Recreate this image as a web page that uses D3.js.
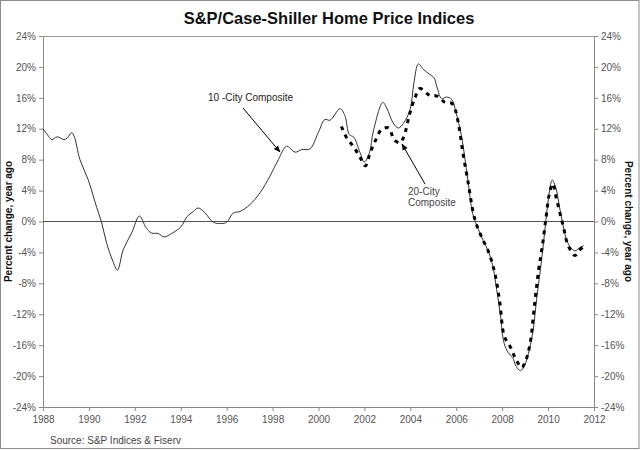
<!DOCTYPE html>
<html><head><meta charset="utf-8">
<script src="https://cdn.jsdelivr.net/npm/d3@7"></script>
<style>body{margin:0;background:#fff;} svg{display:block;font-family:Arial,"Liberation Sans",sans-serif;}</style>
</head><body>
<svg id="c" width="640" height="450"></svg>
<script>
const title = "S&P/Case-Shiller Home Price Indices";
const yearTicks = [1988,1990,1992,1994,1996,1998,2000,2002,2004,2006,2008,2010,2012];
const pctTicks = [-24,-20,-16,-12,-8,-4,0,4,8,12,16,20,24];

const city10Dates = [1988.0,1988.2,1988.38,1988.62,1988.91,1989.06,1989.25,1989.36,1989.61,1989.97,1990.19,1990.34,1990.56,1990.77,1991.04,1991.24,1991.5,1991.86,1992.2,1992.49,1992.73,1993.02,1993.27,1993.6,1993.89,1994.08,1994.26,1994.55,1994.76,1995.06,1995.42,1995.78,1996.0,1996.29,1996.58,1997.02,1997.45,1997.89,1998.25,1998.61,1998.98,1999.27,1999.63,1999.99,2000.28,2000.5,2000.94,2001.15,2001.34,2001.54,2001.81,2002.0,2002.22,2002.39,2002.8,2002.97,2003.26,2003.48,2003.7,2003.99,2004.15,2004.35,2004.56,2004.86,2005.03,2005.17,2005.36,2005.58,2005.8,2005.99,2006.23,2006.5,2006.72,2006.96,2007.18,2007.39,2007.58,2007.76,2007.93,2008.08,2008.27,2008.46,2008.6,2008.8,2008.99,2009.13,2009.33,2009.5,2009.72,2009.91,2010.05,2010.18,2010.34,2010.49,2010.66,2010.88,2011.17,2011.36,2011.56];
const city10Values = [12.0,11.2,10.6,10.96,10.6,10.8,11.5,11.0,8.0,5.4,3.3,1.8,-0.2,-2.8,-5.1,-6.3,-3.6,-1.5,0.7,-0.8,-1.5,-1.55,-2.0,-1.55,-1.0,-0.4,0.6,1.3,1.75,1.1,-0.1,-0.26,-0.1,1.1,1.3,2.2,3.7,5.9,8.0,9.74,8.97,9.3,9.4,11.5,13.2,13.1,14.6,13.7,11.25,10.9,8.9,7.7,8.9,11.7,15.4,14.7,12.7,12.1,12.7,14.5,17.8,20.4,19.7,19.0,18.6,17.3,15.9,16.1,15.8,14.1,11.0,5.5,1.0,-1.0,-2.5,-3.8,-5.6,-8.8,-12.25,-15.7,-17.0,-17.6,-18.7,-19.3,-18.5,-17.2,-14.4,-10.1,-4.9,0.26,3.7,5.35,4.35,2.0,-0.6,-2.9,-3.8,-3.4,-3.1];

const city20Dates = [2001.0,2001.23,2001.52,2001.81,2002.04,2002.24,2002.5,2002.75,2003.06,2003.29,2003.55,2003.72,2003.96,2004.2,2004.42,2004.86,2005.2,2005.51,2005.8,2005.95,2006.1,2006.3,2006.52,2006.75,2006.93,2007.15,2007.39,2007.57,2007.71,2007.9,2008.09,2008.37,2008.6,2008.85,2008.99,2009.21,2009.4,2009.59,2009.75,2009.91,2010.05,2010.2,2010.37,2010.55,2010.69,2010.86,2011.17,2011.36,2011.53];
const city20Values = [12.3,10.8,9.7,8.3,7.2,8.8,10.6,11.9,12.1,10.6,10.2,11.0,13.8,16.0,17.2,16.3,16.2,15.4,15.3,14.5,12.6,8.7,5.0,1.0,-0.8,-2.3,-3.8,-5.4,-7.1,-10.5,-14.8,-16.3,-17.85,-18.9,-18.3,-15.9,-11.0,-6.2,-3.2,0.5,3.5,4.9,2.85,0.7,-1.0,-3.0,-4.4,-3.7,-3.3];

const svg = d3.select("#c");
const L = 43, R = 594, T = 36, B = 407;
const x = d3.scaleLinear().domain([1988,2012]).range([L,R]);
const y = d3.scaleLinear().domain([-24,24]).range([B,T]);

// outer border
svg.append("rect").attr("x",0.5).attr("y",0.5).attr("width",638.5).attr("height",448).attr("fill","none").attr("stroke","#8c8c8c");

// title
svg.append("text").attr("x",329).attr("y",24).attr("text-anchor","middle")
  .attr("font-size",16.5).attr("font-weight","bold").attr("fill","#111").text(title);

// plot box top line
svg.append("line").attr("x1",L).attr("x2",R).attr("y1",T+0.5).attr("y2",T+0.5).attr("stroke","#999");

const axStyle = g => {
  g.selectAll(".domain").attr("stroke","#888");
  g.selectAll(".tick line").attr("stroke","#888");
  g.selectAll(".tick text").attr("fill","#555").attr("font-size",10).attr("font-family","Arial, 'Liberation Sans', sans-serif");
};
const fmt = d => d + "%";
svg.append("g").attr("transform",`translate(${L},0)`)
  .call(d3.axisLeft(y).tickValues(pctTicks).tickFormat(fmt).tickSize(4).tickSizeOuter(0).tickPadding(3)).call(axStyle);
svg.append("g").attr("transform",`translate(${R},0)`)
  .call(d3.axisRight(y).tickValues(pctTicks).tickFormat(fmt).tickSize(4).tickSizeOuter(0).tickPadding(3)).call(axStyle);
svg.append("g").attr("transform",`translate(0,${B})`)
  .call(d3.axisBottom(x).tickValues(yearTicks).tickFormat(d3.format("d")).tickSize(4).tickSizeOuter(0).tickPadding(5)).call(axStyle);

// zero line
svg.append("line").attr("x1",L).attr("x2",R).attr("y1",y(0)).attr("y2",y(0)).attr("stroke","#555").attr("stroke-width",1);

// series
const line = d3.line().x(d=>x(d[0])).y(d=>y(d[1])).curve(d3.curveCatmullRom.alpha(0.5));
const s10 = city10Dates.map((d,i)=>[d,city10Values[i]]);
const s20 = city20Dates.map((d,i)=>[d,city20Values[i]]);
svg.append("path").datum(s10).attr("d",line).attr("fill","none").attr("stroke","#333").attr("stroke-width",1);
svg.append("path").datum(s20).attr("d",line).attr("fill","none").attr("stroke","#000").attr("stroke-width",3).attr("stroke-dasharray","4,5");

// axis titles
svg.append("text").attr("transform",`translate(12,${y(0)}) rotate(-90)`).attr("text-anchor","middle")
  .attr("font-size",10).attr("font-weight","bold").attr("fill","#111").text("Percent change, year ago");
svg.append("text").attr("transform",`translate(625,${y(0)}) rotate(90)`).attr("text-anchor","middle")
  .attr("font-size",10).attr("font-weight","bold").attr("fill","#111").text("Percent change, year ago");

// annotations
const defs = svg.append("defs");
defs.append("marker").attr("id","ah").attr("viewBox","0 0 10 10").attr("refX",9).attr("refY",5)
  .attr("markerWidth",7).attr("markerHeight",7).attr("orient","auto")
  .append("path").attr("d","M0,1 L10,5 L0,9 z").attr("fill","#000");
svg.append("text").attr("x",208).attr("y",101).attr("font-size",10).attr("fill","#222").text("10 -City Composite");
svg.append("line").attr("x1",243).attr("y1",108).attr("x2",280).attr("y2",152).attr("stroke","#000").attr("stroke-width",1).attr("marker-end","url(#ah)");
svg.append("text").attr("x",408).attr("y",195).attr("font-size",10).attr("fill","#444").text("20-City");
svg.append("text").attr("x",408).attr("y",206).attr("font-size",10).attr("fill","#444").text("Composite");
svg.append("line").attr("x1",425).attr("y1",184).attr("x2",402).attr("y2",144).attr("stroke","#000").attr("stroke-width",1).attr("marker-end","url(#ah)");

// source
svg.append("text").attr("x",50).attr("y",444).attr("font-size",10).attr("fill","#444").text("Source: S&P Indices & Fiserv");
</script>
</body></html>
